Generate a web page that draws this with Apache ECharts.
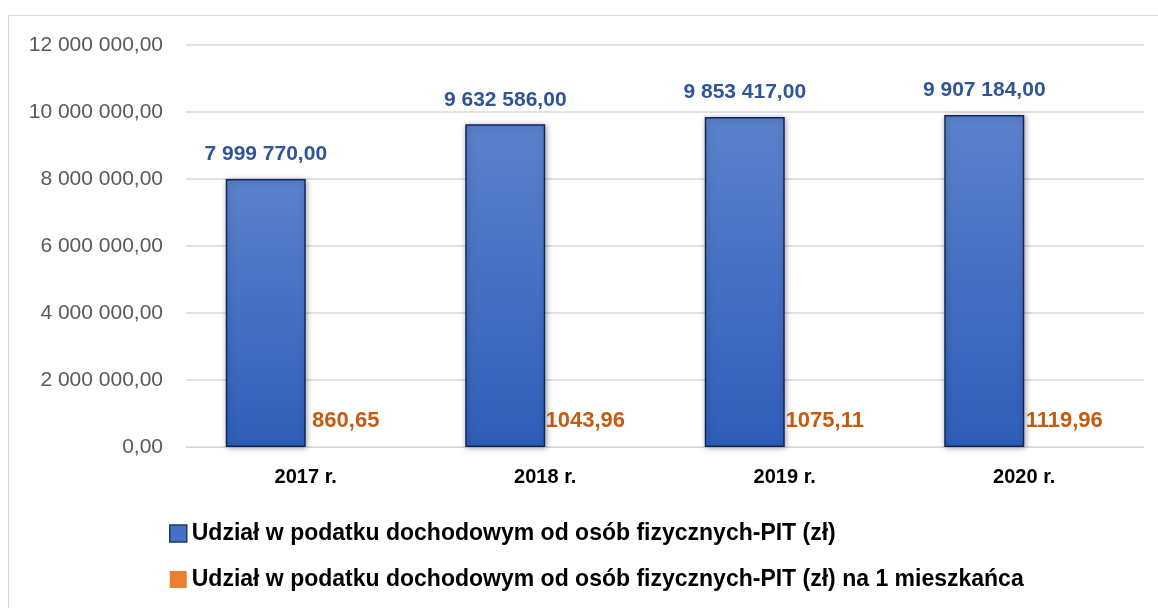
<!DOCTYPE html>
<html>
<head>
<meta charset="utf-8">
<script src="https://cdn.jsdelivr.net/npm/echarts@6/dist/echarts.min.js"></script>
<style>
  html, body { margin: 0; padding: 0; background: #fff; }
  #main { width: 1158px; height: 608px; }
</style>
</head>
<body>
<div id="main"></div>
<script>
// dane z wykresu
var lata = ['2017 r.', '2018 r.', '2019 r.', '2020 r.'];
var pitRazem = [7999770.00, 9632586.00, 9853417.00, 9907184.00];
var pitNaMieszkanca = [860.65, 1043.96, 1075.11, 1119.96];
var nazwaRazem = 'Udział w podatku dochodowym od osób fizycznych-PIT (zł)';
var nazwaNaMieszkanca = 'Udział w podatku dochodowym od osób fizycznych-PIT (zł) na 1 mieszkańca';

// format polski: spacje w tysiącach, przecinek dziesiętny
function fmt(v) {
  var parts = v.toFixed(2).split('.');
  return parts[0].replace(/\B(?=(\d{3})+(?!\d))/g, ' ') + ',' + parts[1];
}

var font = '"Liberation Sans", "Open Sans", sans-serif';
var myChart = echarts.init(document.getElementById('main'));

myChart.setOption({
  animation: false,
  textStyle: { fontFamily: font },
  graphic: [{
    type: 'rect',
    shape: { x: 8.5, y: 15.5, width: 1160, height: 600 },
    style: { fill: 'none', stroke: '#d9d9d9', lineWidth: 1 },
    silent: true
  }],
  grid: { left: 186, right: 14, top: 45, bottom: 161 },
  legend: {
    orient: 'vertical',
    left: 164,
    top: 517,
    itemGap: 23,
    itemWidth: 17,
    itemHeight: 17,
    textStyle: { fontSize: 23, fontWeight: 'bold', color: '#000', fontFamily: font },
    data: [
      { name: nazwaRazem, icon: 'rect', itemStyle: { color: '#4472C4', borderColor: '#1F3864', borderWidth: 1.5 } },
      { name: nazwaNaMieszkanca, icon: 'rect', itemStyle: { color: '#ED7D31', borderWidth: 0 } }
    ]
  },
  xAxis: {
    type: 'category',
    data: lata,
    axisTick: { show: false },
    axisLine: { lineStyle: { color: '#d9d9d9' } },
    axisLabel: { fontSize: 20, fontWeight: 'bold', color: '#000', margin: 20 }
  },
  yAxis: {
    type: 'value',
    min: 0,
    max: 12000000,
    interval: 2000000,
    axisLine: { show: false },
    axisTick: { show: false },
    splitLine: { lineStyle: { color: '#d9d9d9', width: 1.5 } },
    axisLabel: {
      fontSize: 21, color: '#595959', margin: 23,
      formatter: function (v) { return fmt(v); }
    }
  },
  series: [
    {
      name: nazwaRazem,
      type: 'bar',
      data: pitRazem,
      barWidth: 80,
      barGap: '0%',
      itemStyle: {
        color: new echarts.graphic.LinearGradient(0, 0, 0, 1, [
          { offset: 0, color: '#5B82CC' },
          { offset: 1, color: '#2F5EB9' }
        ]),
        borderColor: '#10265A',
        borderWidth: 1.5,
        shadowColor: 'rgba(0,0,0,0.35)',
        shadowBlur: 6,
        shadowOffsetX: 1,
        shadowOffsetY: 1
      },
      label: {
        show: true,
        position: 'top',
        distance: 14,
        fontSize: 21,
        fontWeight: 'bold',
        color: '#2F5597',
        formatter: function (p) { return fmt(p.value); }
      }
    },
    {
      name: nazwaNaMieszkanca,
      type: 'bar',
      data: pitNaMieszkanca,
      barWidth: 80,
      itemStyle: { color: '#ED7D31' },
      label: {
        show: true,
        position: 'top',
        distance: 15,
        fontSize: 22,
        fontWeight: 'bold',
        color: '#C55A11',
        formatter: function (p) { return p.value.toFixed(2).replace('.', ','); }
      }
    }
  ]
});
</script>
</body>
</html>
